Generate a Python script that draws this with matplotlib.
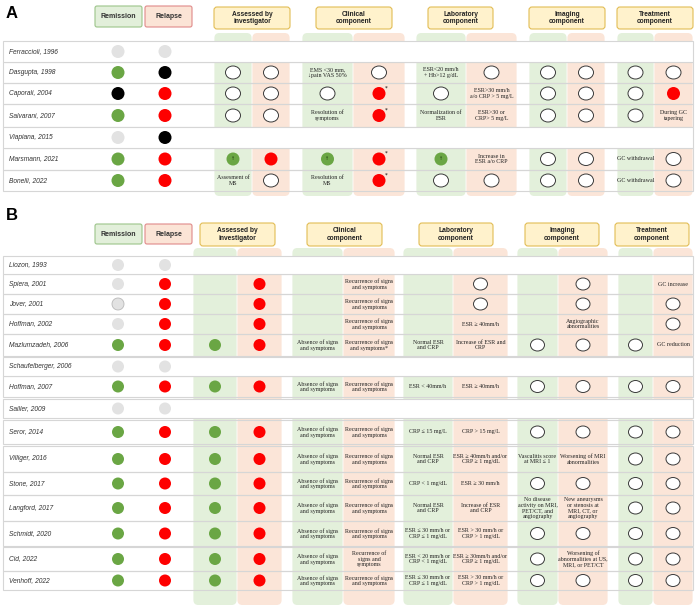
import matplotlib
matplotlib.use("Agg")
import matplotlib.pyplot as plt
from matplotlib.patches import FancyBboxPatch, Ellipse, Rectangle

# ---- data -----------------------------------------------------------------
headers = ["Assessed by\ninvestigator", "Clinical\ncomponent", "Laboratory\ncomponent",
           "Imaging\ncomponent", "Treatment\ncomponent"]

REC = "Recurrence of signs\nand symptoms"
ABS = "Absence of signs\nand symptoms"

studies_a = ["Ferraccioli, 1996", "Dasgupta, 1998", "Caporali, 2004", "Salvarani, 2007",
             "Viapiana, 2015", "Marsmann, 2021", "Bonelli, 2022"]
remission_a = ["gray", "green", "black", "green", "gray", "green", "green"]
relapse_a = ["gray", "black", "red", "red", "black", "red", "red"]
# o = open circle, G/R = filled dot, R* = dot with asterisk, G^ = dot with arrow
cells_a = [
    None,
    ["o", "o", "EMS <30 mm,\n\u2193pain VAS 50%", "o", "ESR<20 mm/h\n+ Hb>12 g/dL", "o", "o", "o", "o", "o"],
    ["o", "o", "o", "R*", "o", "ESR>30 mm/h\na/o CRP > 5 mg/L", "o", "o", "o", "R"],
    ["o", "o", "Resolution of\nsymptoms", "R*", "Normalization of\nESR", "ESR>30 or\nCRP> 5 mg/L",
     "o", "o", "o", "During GC\ntapering"],
    None,
    ["G^", "R", "G^", "R*", "G^", "Increase in\nESR a/o CRP", "o", "o", "GC withdrawal", "o"],
    ["Assesment of\nMS", "o", "Resolution of\nMS", "R*", "o", "o", "o", "o", "GC withdrawal", "o"],
]

studies_b = ["Liozon, 1993", "Spiera, 2001", "Jover, 2001", "Hoffman, 2002", "Mazlumzadeh, 2006",
             "Schaufelberger, 2006", "Hoffman, 2007", "Sailler, 2009", "Seror, 2014",
             "Villiger, 2016", "Stone, 2017", "Langford, 2017", "Schmidt, 2020", "Cid, 2022",
             "Venhoff, 2022"]
remission_b = ["gray", "gray", "grayo", "gray", "green", "gray", "green", "gray", "green",
               "green", "green", "green", "green", "green", "green"]
relapse_b = ["gray", "red", "red", "red", "red", "gray", "red", "gray", "red",
             "red", "red", "red", "red", "red", "red"]
cells_b = [
    None,
    ["", "R", "", REC, "", "o", "", "o", "", "GC increase"],
    ["", "R", "", REC, "", "o", "", "o", "", "o"],
    ["", "R", "", REC, "", "ESR \u2265 40mm/h", "", "Angiographic\nabnormalities", "", "o"],
    ["G", "R", ABS, REC + "*", "Normal ESR\nand CRP", "Increase of ESR and\nCRP", "o", "o", "o",
     "GC reduction"],
    None,
    ["G", "R", ABS, REC, "ESR < 40mm/h", "ESR \u2265 40mm/h", "o", "o", "o", "o"],
    None,
    ["G", "R", ABS, REC, "CRP \u2264 15 mg/L", "CRP > 15 mg/L", "o", "o", "o", "o"],
    ["G", "R", ABS, REC, "Normal ESR\nand CRP", "ESR \u2265 40mm/h and/or\nCRP \u2265 1 mg/dL",
     "Vasculitis score\nat MRI \u2264 1", "Worsening of MRI\nabnormalities", "o", "o"],
    ["G", "R", ABS, REC, "CRP < 1 mg/dL", "ESR \u2265 30 mm/h", "o", "o", "o", "o"],
    ["G", "R", ABS, REC, "Normal ESR\nand CRP", "Increase of ESR\nand CRP",
     "No disease\nactivity on MRI,\nPET/CT, and\nangiography",
     "New aneurysms\nor stenosis at\nMRI, CT, or\nangiography", "o", "o"],
    ["G", "R", ABS, REC, "ESR \u2264 30 mm/h or\nCRP \u2264 1 mg/dL", "ESR > 30 mm/h or\nCRP > 1 mg/dL",
     "o", "o", "o", "o"],
    ["G", "R", ABS, "Recurrence of\nsigns and\nsymptoms", "ESR < 20 mm/h or\nCRP < 1 mg/dL",
     "ESR \u2265 30mm/h and/or\nCRP \u2265 1 mg/dL", "o",
     "Worsening of\nabnormalities at US,\nMRI, or PET/CT", "o", "o"],
    ["G", "R", ABS, REC, "ESR \u2264 30 mm/h or\nCRP \u2264 1 mg/dL", "ESR > 30 mm/h or\nCRP > 1 mg/dL",
     "o", "o", "o", "o"],
]

# ---- layout (pixels) --------------------------------------------------------
rows_a = [(41, 62), (62, 83), (83, 104), (104, 127), (127, 148), (148, 170), (170, 191)]
cols_a = [(214, 252), (252, 290), (302, 353), (353, 405), (416, 466), (466, 517),
          (529, 567), (567, 605), (617, 654), (654, 693)]
heads_a = [(214, 290), (316, 392), (428, 493), (529, 605), (617, 693)]

rows_b = [(256, 274), (274, 294), (294, 314), (314, 334), (334, 356), (357, 376), (376, 397),
          (399, 418), (420, 444), (446, 472), (472, 495), (495, 521), (521, 546), (547, 571),
          (571, 590)]
cols_b = [(193, 237), (237, 282), (292, 343), (343, 395), (403, 453), (453, 508),
          (517, 558), (558, 608), (618, 653), (653, 693)]
heads_b = [(200, 275), (307, 382), (419, 493), (525, 599), (615, 689)]

GREEN_BG = "#e3f0db"
PINK_BG = "#fbe5d8"
DOT = {"green": "#6aa644", "red": "#fe0000", "black": "#000000", "gray": "#e2e2e2",
       "grayo": "#e2e2e2", "G": "#6aa644", "R": "#fe0000"}
SERIF = ["Liberation Serif", "DejaVu Serif"]
SANS = ["Liberation Sans", "DejaVu Sans"]

fig = plt.figure(figsize=(6.97, 6.09), dpi=100)
ax = fig.add_axes([0, 0, 1, 1])
ax.set_xlim(0, 697)
ax.set_ylim(609, 0)
ax.axis("off")


def rbox(x0, y0, x1, y1, fc, ec, r, lw=0.8, z=1):
    ax.add_patch(FancyBboxPatch((x0, y0), x1 - x0, y1 - y0,
                                boxstyle=f"round,pad=0,rounding_size={r}",
                                fc=fc, ec=ec, lw=lw, zorder=z))


def dot(x, y, kind, d):
    ec = "#b8b8b8" if kind == "grayo" else "none"
    ax.add_patch(Ellipse((x, y), d, d, fc=DOT[kind], ec=ec, lw=0.6, zorder=5))


def ring(x, y, w, h):
    ax.add_patch(Ellipse((x, y), w, h, fc="white", ec="#3a3a3a", lw=0.7, zorder=5))


def panel(label, label_y, head_y, rr_y, studies, remission, relapse, cells, rows, cols, heads,
          col_top, col_bot, d, rw, rh):
    ax.text(6, label_y, label, fontsize=12, fontweight="bold", family=SANS, va="center")
    # remission / relapse headers
    rbox(95, rr_y[0], 142, rr_y[1], "#e2efda", "#9cc48a", 2)
    rbox(145, rr_y[0], 192, rr_y[1], "#fbe4d6", "#e08a8a", 2)
    ax.text(118.5, sum(rr_y) / 2, "Remission", fontsize=5, fontweight="bold", color="#333",
            family=SANS, ha="center", va="center", zorder=6)
    ax.text(168.5, sum(rr_y) / 2, "Relapse", fontsize=5, fontweight="bold", color="#333",
            family=SANS, ha="center", va="center", zorder=6)
    for (x0, x1), h in zip(heads, headers):
        rbox(x0, head_y[0], x1, head_y[1], "#fff2cc", "#e2bd55", 3)
        ax.text((x0 + x1) / 2, sum(head_y) / 2, h, fontsize=4.8, fontweight="bold", color="#222",
                family=SANS, ha="center", va="center", linespacing=1.15, zorder=6)
    # coloured component columns
    for i, (x0, x1) in enumerate(cols):
        rbox(x0 + 0.4, col_top, x1 - 0.4, col_bot, GREEN_BG if i % 2 == 0 else PINK_BG, "none", 5, z=1)
    # rows
    for (y0, y1), name, rem, rel, row in zip(rows, studies, remission, relapse, cells):
        yc = (y0 + y1) / 2
        fill = row is None
        ax.add_patch(Rectangle((3, y0), 690, y1 - y0, fc="white" if fill else "none",
                               ec="#d6d6d6", lw=0.8, zorder=3 if fill else 2))
        ax.text(9, yc, name, fontsize=4.8, style="italic", color="#333", family=SANS,
                va="center", zorder=6)
        dot(118, yc, rem, d)
        dot(165, yc, rel, d)
        if row is None:
            continue
        for (x0, x1), c in zip(cols, row):
            xc = (x0 + x1) / 2
            if c == "":
                continue
            if c == "o":
                ring(xc, yc, rw, rh)
            elif c in ("G", "R", "R*", "G^"):
                dot(xc, yc, c[0], d)
                if c == "R*":
                    ax.text(xc + d * 0.55, yc - d * 0.45, "*", fontsize=4, color="#000",
                            ha="center", va="center", zorder=6)
                if c == "G^":
                    ax.text(xc, yc, "\u2191", fontsize=3.5, color="#1e3d10", family="DejaVu Sans",
                            ha="center", va="center", zorder=6)
            else:
                ax.text(xc, yc, c, fontsize=4.3, color="#222", family=SERIF, ha="center",
                        va="center", linespacing=1.1, zorder=6)


panel("A", 13, (7, 29), (6, 27), studies_a, remission_a, relapse_a, cells_a, rows_a, cols_a,
      heads_a, 33, 196, 13, 15, 13)
panel("B", 216, (223, 246), (224, 244), studies_b, remission_b, relapse_b, cells_b, rows_b,
      cols_b, heads_b, 248, 605, 12, 14, 12)

fig.savefig("out.png", dpi=100)
